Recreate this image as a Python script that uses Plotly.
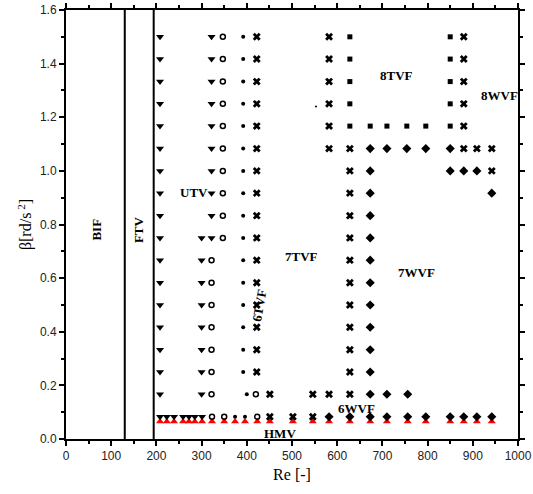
import plotly.graph_objects as go

# ---- data ----
ROWS = [0.083, 0.167, 0.25, 0.333, 0.417, 0.5, 0.583, 0.667, 0.75, 0.833,
        0.917, 1.0, 1.083, 1.167, 1.25, 1.333, 1.417, 1.5]
BOTTOM_BETA = 0.083
RED_BETA = 0.065

# flow-regime boundaries (vertical lines)
BOUNDARIES_RE = [130, 194]

# downward triangles: Re -> list of beta
tri_down = {
    208: ROWS[1:],
    322: ROWS[8:],
    300: ROWS[1:9],
}
tri_down_bottom_re = [208, 223, 239, 259, 272, 285, 301]

# open circles
circ_open = {
    347: ROWS[8:],
    322: ROWS[1:8],
    420: ROWS[1:2],
}
circ_open_bottom_re = [323, 350, 423]

# small dots
dots = {
    392: ROWS[2:],
    400: ROWS[1:2],
}
dots_bottom_re = [374, 396]
stray_dot_re = [553]
stray_dot_beta = [1.24]

# crosses
cross = {
    422: ROWS[2:],
    451: ROWS[1:2],
    546: ROWS[1:2],
    582: ROWS[1:2] + ROWS[12:],
    628: ROWS[1:13],
    880: ROWS[12:],
    909: ROWS[12:13],
    942: ROWS[11:13],
}
cross_bottom_re = [451, 502, 546]

# squares
square = {
    628: ROWS[13:],
    673: ROWS[13:14],
    710: ROWS[13:14],
    754: ROWS[13:14],
    796: ROWS[13:14],
    850: ROWS[13:],
}

# diamonds
diamond = {
    673: ROWS[1:13],
    710: ROWS[1:2] + ROWS[12:13],
    756: ROWS[1:2],
    754: ROWS[12:13],
    796: ROWS[12:13],
    850: ROWS[11:13],
    880: ROWS[11:12],
    909: ROWS[11:12],
    942: ROWS[10:11],
}
diamond_bottom_re = [582, 628, 673, 710, 756, 796, 850, 880, 909, 942]

# red triangles (bottom row)
red_tri_re = [208, 223, 239, 259, 272, 285, 301, 323, 350, 374, 396, 423,
              451, 502, 546, 582, 628, 673, 710, 756, 796, 850, 880, 909, 942]

# regime labels: (text, Re, beta, angle)
LABELS = [
    ("BIF", 68, 0.78, -90),
    ("FTV", 162, 0.78, -90),
    ("UTV", 283, 0.92, 0),
    ("7TVF", 520, 0.68, 0),
    ("6TVF", 429, 0.50, -80),
    ("8TVF", 732, 1.355, 0),
    ("8WVF", 958, 1.28, 0),
    ("7WVF", 776, 0.62, 0),
    ("6WVF", 642, 0.115, 0),
    ("HMV", 474, 0.022, 0),
]


def flatten(d, extra_re=None, extra_beta=None):
    xs, ys = [], []
    for re, betas in d.items():
        for b in betas:
            xs.append(re)
            ys.append(b)
    if extra_re:
        xs += list(extra_re)
        ys += list(extra_beta)
    return xs, ys


fig = go.Figure()

# red triangles first (underneath)
fig.add_trace(go.Scatter(
    x=red_tri_re, y=[RED_BETA] * len(red_tri_re), mode="markers",
    marker=dict(symbol="triangle-up", size=7, color="#ff0000", line=dict(width=0)),
    showlegend=False, hoverinfo="skip", cliponaxis=False))

sets = [
    (tri_down, tri_down_bottom_re, "triangle-down", 7, dict(width=0)),
    (circ_open, circ_open_bottom_re, "circle-open", 5, dict(width=1.5, color="black")),
    (dots, dots_bottom_re, "circle", 4, dict(width=0)),
    (cross, cross_bottom_re, "x", 7, dict(width=0)),
    (square, [], "square", 5, dict(width=0)),
    (diamond, diamond_bottom_re, "diamond", 7, dict(width=0)),
]
for d, bottom, sym, size, line in sets:
    xs, ys = flatten(d, bottom, [BOTTOM_BETA] * len(bottom))
    fig.add_trace(go.Scatter(
        x=xs, y=ys, mode="markers",
        marker=dict(symbol=sym, size=size, color="black", line=line),
        showlegend=False, hoverinfo="skip"))

fig.add_trace(go.Scatter(
    x=stray_dot_re, y=stray_dot_beta, mode="markers",
    marker=dict(symbol="circle", size=2, color="black"),
    showlegend=False, hoverinfo="skip"))

for re in BOUNDARIES_RE:
    fig.add_shape(type="line", x0=re, x1=re, y0=0, y1=1.6, xref="x", yref="y",
                  line=dict(color="black", width=2))

for text, re, b, ang in LABELS:
    fig.add_annotation(x=re, y=b, text=f"<b>{text}</b>", showarrow=False,
                       textangle=ang,
                       font=dict(family="Liberation Serif", size=13, color="black"))

axis_common = dict(
    showgrid=False, zeroline=False, showline=True, linecolor="black", linewidth=2,
    ticks="outside", ticklen=5, tickwidth=1.5, tickcolor="black", mirror="allticks",
    tickfont=dict(family="Liberation Sans", size=12, color="#222"),
    automargin=False, ticklabeloverflow="allow",
)

fig.update_xaxes(range=[0, 1000], dtick=100, tick0=0,
                 minor=dict(ticks="outside", dtick=50, ticklen=3, tickwidth=1.5, tickcolor="black"),
                 title=dict(text="Re [-]", font=dict(family="Liberation Serif", size=16, color="black"),
                            standoff=6),
                 **axis_common)
fig.update_yaxes(range=[0, 1.6], dtick=0.2, tick0=0, tickformat=".1f",
                 minor=dict(ticks="outside", dtick=0.1, ticklen=3, tickwidth=1.5, tickcolor="black"),
                 title=dict(text="β[rd/s<sup> 2</sup>]",
                            font=dict(family="Liberation Serif", size=16, color="black"),
                            standoff=4),
                 **axis_common)

fig.update_layout(
    width=533, height=494,
    margin=dict(l=66, r=15, t=10, b=55),
    plot_bgcolor="white", paper_bgcolor="white",
)

fig.write_html("out.html", config={"displayModeBar": False},
               post_script="document.body.style.margin='0';document.body.style.padding='0';")
